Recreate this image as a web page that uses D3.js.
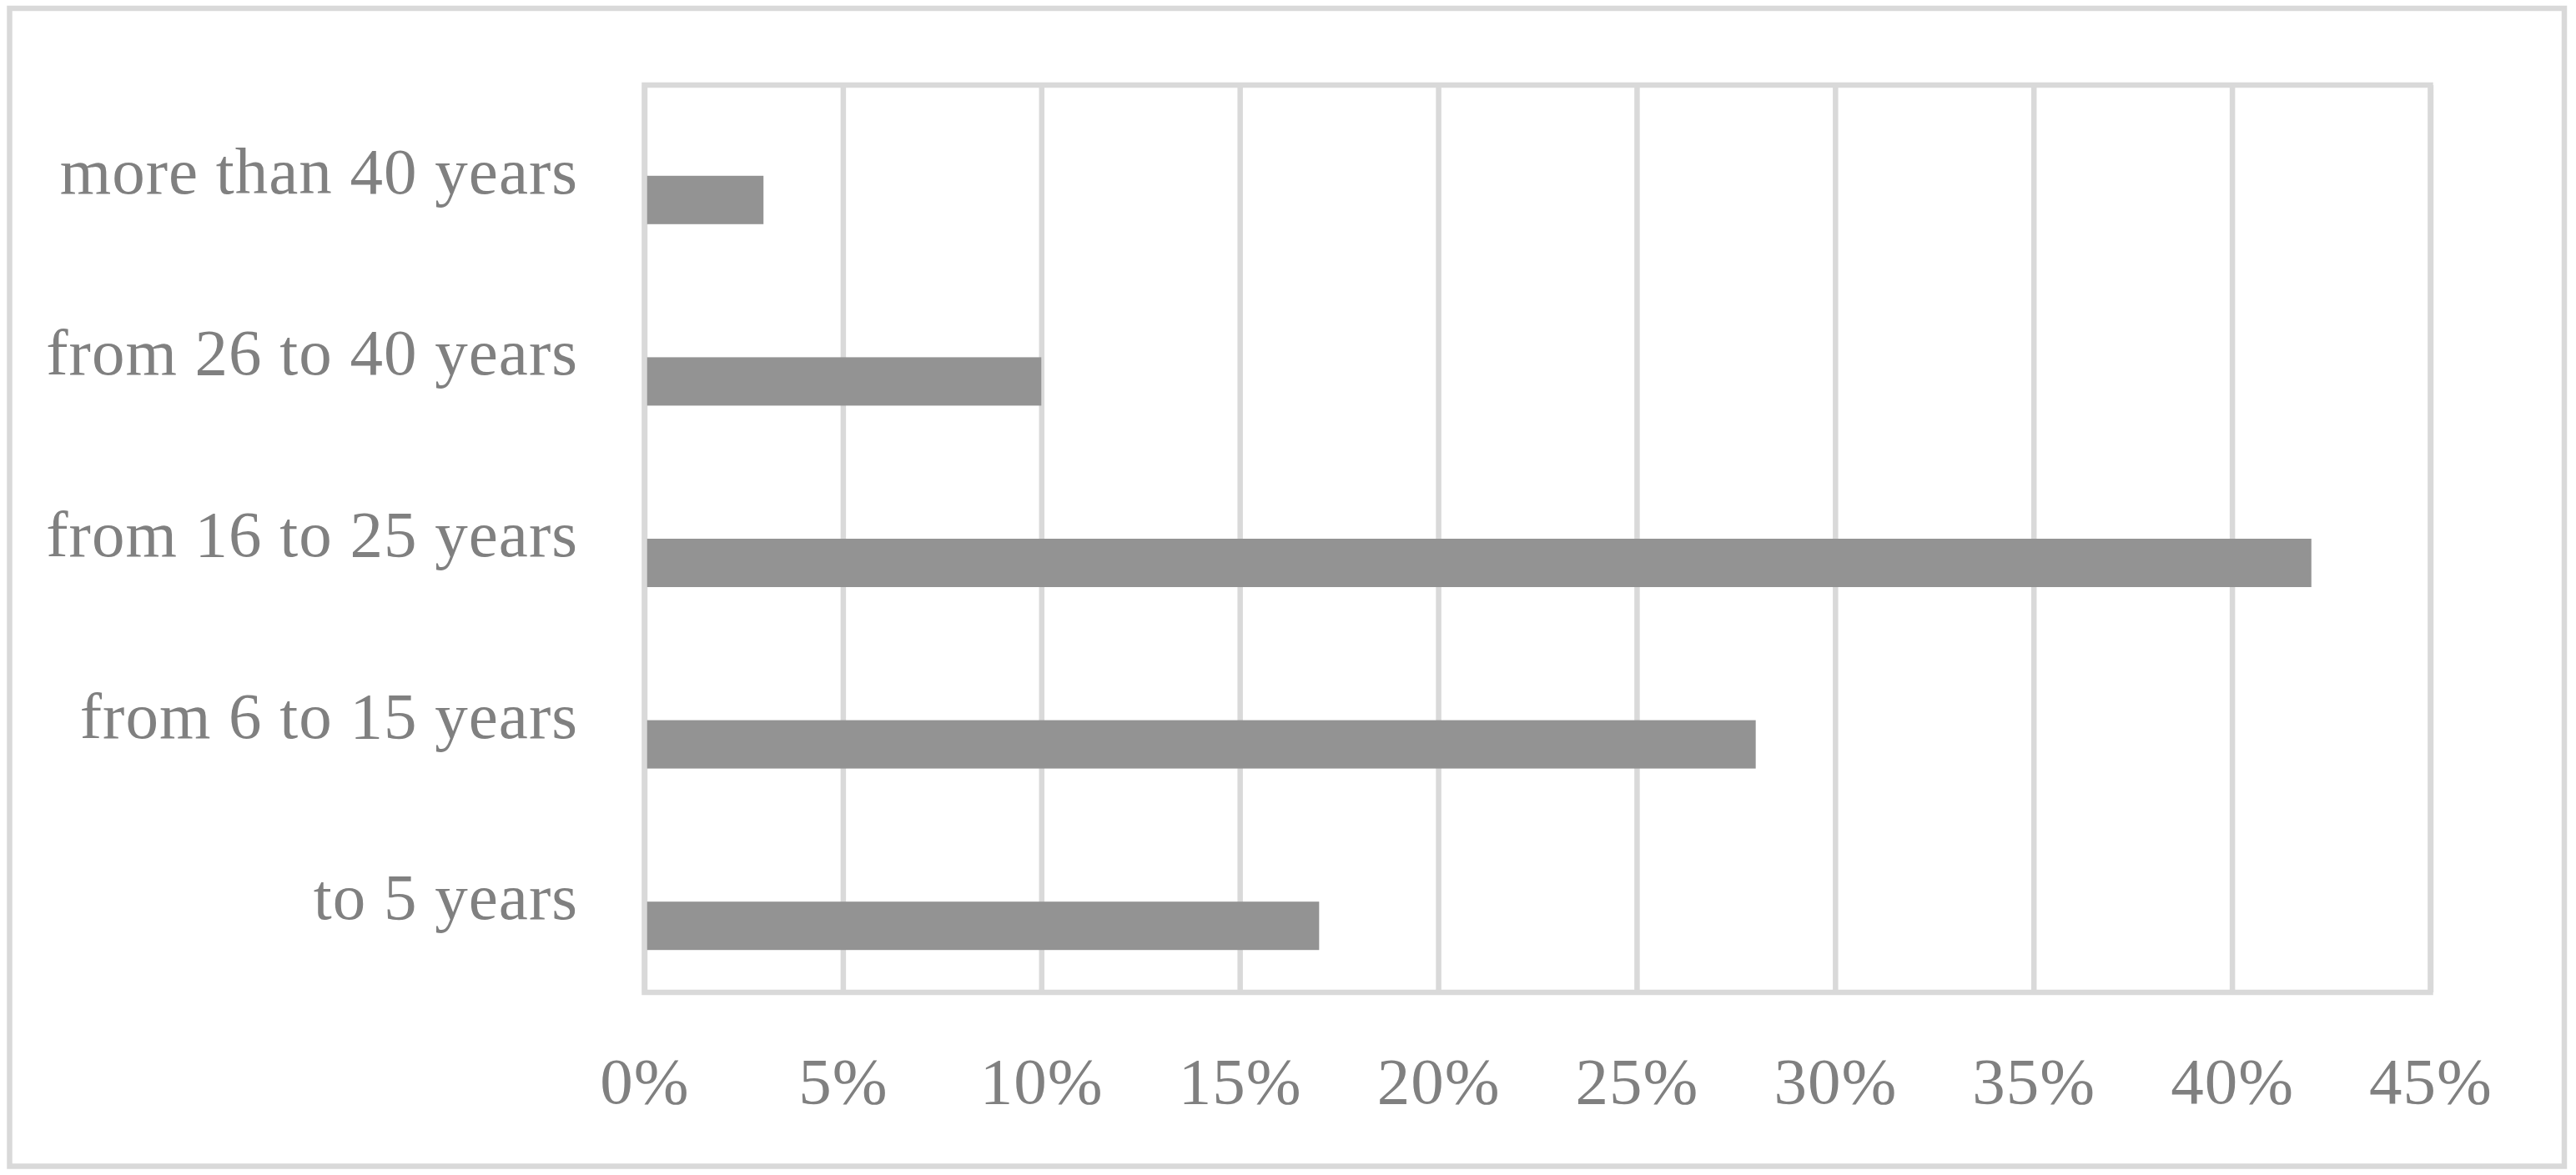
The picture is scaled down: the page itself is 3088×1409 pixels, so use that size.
<!DOCTYPE html>
<html>
<head>
<meta charset="utf-8">
<script src="https://cdn.jsdelivr.net/npm/d3@7"></script>
<style>
    body { margin: 0; background: #ffffff; }
    svg { display: block; }
</style>
</head>
<body>
<div class="bar-chart"></div>
<script>
// chart values
const categories = ["to 5 years", "from 6 to 15 years", "from 16 to 25 years", "from 26 to 40 years", "more than 40 years"];
const shares = [17, 28, 42, 10, 3];
const tickValues = [0, 5, 10, 15, 20, 25, 30, 35, 40, 45];

document.addEventListener('DOMContentLoaded', function(){

    const width = 3088;
    const height = 1409;

    // plot area inside the outer frame
    const plot = { left: 772.5, right: 2913.5, top: 102, bottom: 1190 };

    const gridColor = "#d9d9d9";
    const textColor = "#808080";
    const barColor = "#939393";
    const fontFamily = "'Palatino Linotype', 'Book Antiqua', 'Liberation Serif', serif";

    let svgContainer = d3
    .select('.bar-chart')
    .append('svg')
    .attr("width", width)
    .attr("height", height);

    // outer chart frame
    svgContainer.append("rect")
    .attr("x", 11.5)
    .attr("y", 10)
    .attr("width", 3062.5)
    .attr("height", 1388.5)
    .attr("fill", "#ffffff")
    .attr("stroke", gridColor)
    .attr("stroke-width", 6.5);

    // x scale for the percentages
    const xScale = d3.scaleLinear()
    .domain([0, 45])
    .range([plot.left, plot.right]);

    // y scale for the categories, first category at the bottom
    const yScale = d3.scaleBand()
    .domain(categories.slice().reverse())
    .range([plot.top, plot.bottom])
    .padding(0);

    // vertical gridlines + tick labels
    const xAxis = d3.axisBottom(xScale)
    .tickValues(tickValues)
    .tickSize(-(plot.bottom - plot.top))
    .tickFormat((d) => d + "%");

    const xAxisGroup = svgContainer.append("g")
    .attr("id", "x-axis")
    .attr("transform", `translate(0, ${plot.bottom})`)
    .call(xAxis);

    xAxisGroup.select(".domain").remove();

    xAxisGroup.selectAll(".tick line")
    .attr("stroke", gridColor)
    .attr("stroke-width", 6.5);

    xAxisGroup.selectAll(".tick text")
    .attr("y", 133)
    .attr("dy", 0)
    .attr("fill", textColor)
    .attr("font-family", fontFamily)
    .attr("font-size", 79)
    .attr("letter-spacing", 1);

    // bars sit in the lower half of each category band
    const barHeight = yScale.bandwidth() * 0.2665;

    svgContainer.append("g")
    .selectAll("rect")
    .data(shares)
    .enter()
    .append("rect")
    .attr("class", "bar")
    .attr("x", xScale(0))
    .attr("y", (d, i) => yScale(categories[i]) + yScale.bandwidth() / 2)
    .attr("width", (d) => xScale(d) - xScale(0))
    .attr("height", barHeight)
    .attr("fill", barColor);

    // plot area border (axis line on the left and bottom)
    svgContainer.append("rect")
    .attr("x", plot.left)
    .attr("y", plot.top)
    .attr("width", plot.right - plot.left)
    .attr("height", plot.bottom - plot.top)
    .attr("fill", "none")
    .attr("stroke", gridColor)
    .attr("stroke-width", 6.5);

    // category labels
    const yAxis = d3.axisLeft(yScale)
    .tickSize(0)
    .tickPadding(79.5);

    const yAxisGroup = svgContainer.append("g")
    .attr("id", "y-axis")
    .attr("transform", `translate(${plot.left}, 0)`)
    .call(yAxis);

    yAxisGroup.select(".domain").remove();

    yAxisGroup.selectAll(".tick text")
    .attr("dy", 21)
    .attr("fill", textColor)
    .attr("font-family", fontFamily)
    .attr("font-size", 79)
    .attr("letter-spacing", 1);

});
</script>
</body>
</html>
